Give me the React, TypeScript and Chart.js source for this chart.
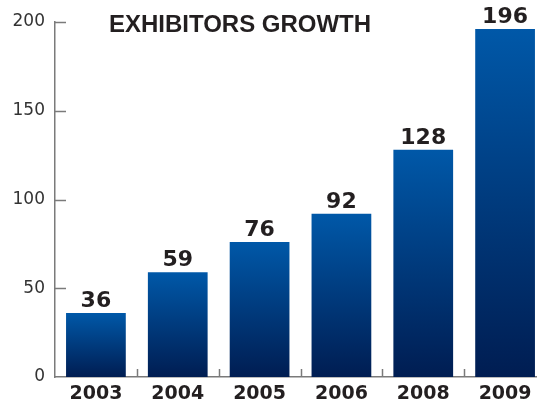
import React, { useEffect, useRef } from "react";
import { Chart, registerables } from "chart.js";

Chart.register(...registerables);

const TITLE = "EXHIBITORS GROWTH";
const categories = ["2003", "2004", "2005", "2006", "2008", "2009"];
const exhibitors = [36, 59, 76, 92, 128, 196];
const yMin = 0;
const yMax = 200;
const yStep = 50;

const TEXT = "#231f20";
const AXIS = "#7a7a7a";
const BAR_TOP = "#0058a8";
const BAR_BOTTOM = "#001d52";

const decorPlugin = {
  id: "decor",
  afterDatasetsDraw(chart: any) {
    const ctx = chart.ctx;
    const xs = chart.scales.x;
    const ys = chart.scales.y;
    const area = chart.chartArea;
    ctx.save();
    ctx.strokeStyle = AXIS;
    ctx.lineWidth = 1.5;
    ys.ticks.forEach((t: any) => {
      if (t.value === yMin) return;
      const py = Math.round(ys.getPixelForValue(t.value)) + 0.5;
      ctx.beginPath();
      ctx.moveTo(area.left, py);
      ctx.lineTo(area.left + 11, py);
      ctx.stroke();
    });
    for (let i = 1; i < categories.length; i++) {
      const px = Math.round((xs.getPixelForValue(i - 1) + xs.getPixelForValue(i)) / 2) + 0.5;
      ctx.beginPath();
      ctx.moveTo(px, area.bottom);
      ctx.lineTo(px, area.bottom - 8);
      ctx.stroke();
    }
    const meta = chart.getDatasetMeta(0);
    ctx.fillStyle = TEXT;
    ctx.textAlign = "center";
    ctx.textBaseline = "alphabetic";
    ctx.font = 'bold 22px "DejaVu Sans"';
    meta.data.forEach((bar: any, i: number) => {
      ctx.fillText(String(exhibitors[i]), bar.x, bar.y - 6);
    });
    ctx.font = 'bold 24px "Liberation Sans"';
    ctx.fillText(TITLE, area.left + 185, area.top + 10);
    ctx.restore();
  },
};

export default function App() {
  const ref = useRef<HTMLCanvasElement | null>(null);
  useEffect(() => {
    if (!ref.current) return;
    const chart = new Chart(ref.current, {
      type: "bar",
      data: {
        labels: categories,
        datasets: [
          {
            data: exhibitors,
            backgroundColor: (c: any) => {
              const ch = c.chart;
              const ys = ch.scales?.y;
              if (!ch.chartArea || !ys || c.raw === undefined) return BAR_TOP;
              const top = ys.getPixelForValue(c.raw);
              const bottom = ys.getPixelForValue(0);
              const g = ch.ctx.createLinearGradient(0, top, 0, bottom);
              g.addColorStop(0, BAR_TOP);
              g.addColorStop(1, BAR_BOTTOM);
              return g;
            },
            borderWidth: 0,
            categoryPercentage: 1,
            barPercentage: 0.73,
          },
        ],
      },
      options: {
        animation: false,
        responsive: false,
        devicePixelRatio: 1,
        layout: { padding: { top: 22, right: 4, bottom: 0, left: 0 } },
        plugins: { legend: { display: false }, tooltip: { enabled: false }, title: { display: false } },
        scales: {
          x: {
            grid: { display: false, drawTicks: false },
            border: { display: true, color: AXIS, width: 1.5 },
            ticks: {
              color: TEXT,
              font: { family: "DejaVu Sans", weight: "bold", size: 19 },
              padding: 6,
              maxRotation: 0,
            },
            afterFit: (s: any) => {
              s.height = 23;
            },
          },
          y: {
            min: yMin,
            max: yMax,
            grid: { display: false, drawTicks: false },
            border: { display: true, color: AXIS, width: 1.5 },
            ticks: {
              stepSize: yStep,
              color: "#333333",
              font: { family: "DejaVu Sans", size: 17 },
              padding: 10,
            },
            afterFit: (s: any) => {
              s.width = 55;
            },
          },
        },
      },
      plugins: [decorPlugin],
    });
    return () => chart.destroy();
  }, []);
  return (
    <div style={{ position: "fixed", left: 0, top: 0, width: 537, height: 400, overflow: "hidden", background: "#fff" }}>
      <canvas ref={ref} width={550} height={400} style={{ display: "block" }} />
    </div>
  );
}
